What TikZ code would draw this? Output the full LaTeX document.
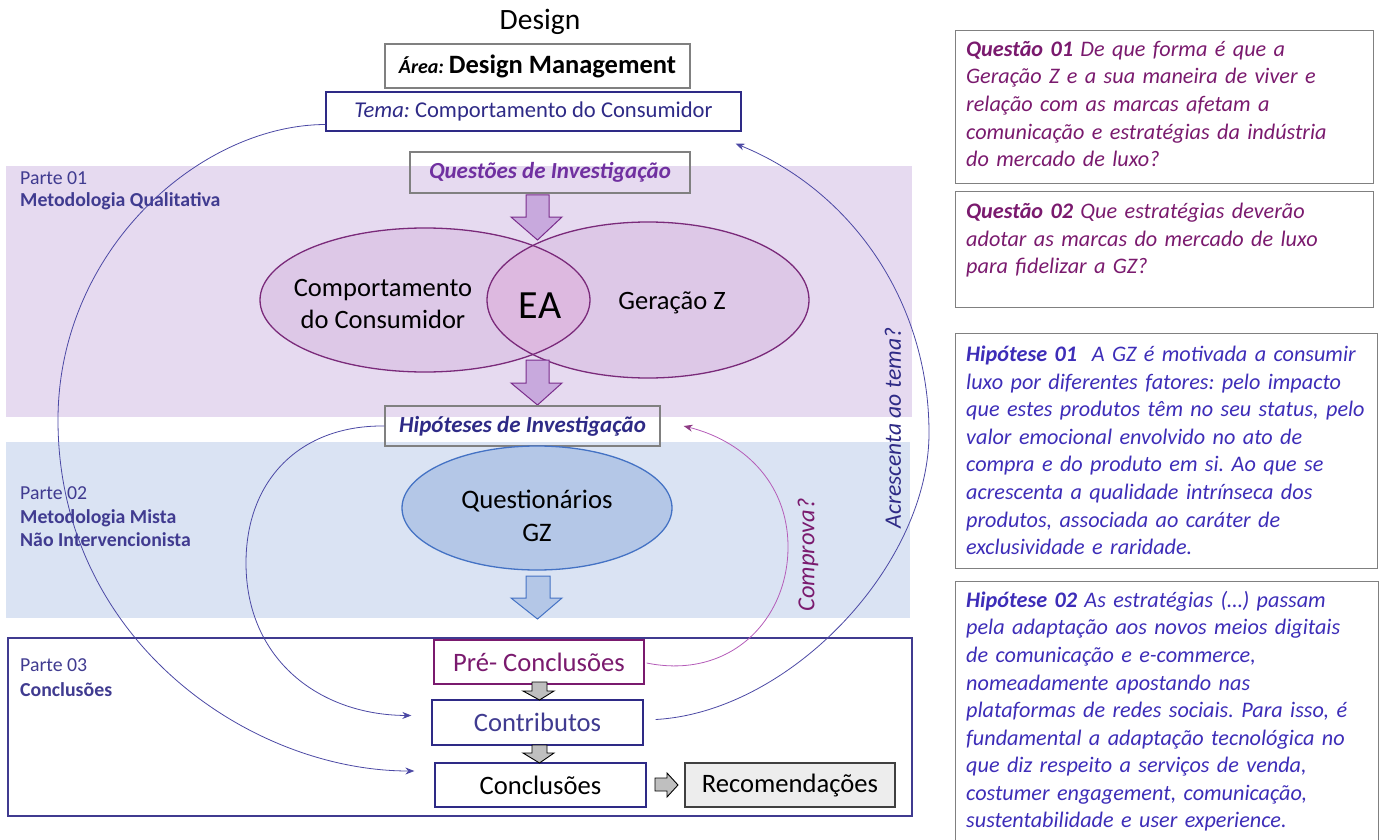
\documentclass[tikz,border=0pt]{standalone}
\usepackage{fontspec}
\setmainfont{Carlito}
\usetikzlibrary{arrows.meta,calc,shapes.geometric}
\definecolor{bandA}{HTML}{E6DAF0}
\definecolor{bandB}{HTML}{DAE3F3}
\definecolor{ellfill}{HTML}{DDC8E7}
\definecolor{lensfill}{HTML}{DDB9E0}
\definecolor{ellborder}{HTML}{7A2A7A}
\definecolor{arrfill}{HTML}{C8A9DD}
\definecolor{arrborder}{HTML}{7A2D8C}
\definecolor{qfill}{HTML}{B4C7E7}
\definecolor{qborder}{HTML}{4472C4}
\definecolor{indigo}{HTML}{2E2A86}
\definecolor{slate}{HTML}{403B90}
\definecolor{frame}{HTML}{808080}
\definecolor{qpurple}{HTML}{7030A0}
\definecolor{plum}{HTML}{7A1A6E}
\definecolor{hblue}{HTML}{3D2DB8}
\definecolor{conn}{HTML}{4B48A4}
\definecolor{conn2}{HTML}{B45CB8}
\definecolor{grayfill}{HTML}{BFBFBF}
\definecolor{recfill}{HTML}{EDEDED}
\newcommand\fs[2]{\fontsize{#1pt}{#2pt}\selectfont}
\tikzset{
  boxnode/.style={draw, line width=1.3pt, inner sep=0pt},
  framebox/.style={draw=frame, line width=1.4pt, inner sep=0pt, anchor=north west},
  bodytext/.style={anchor=north west, inner sep=0pt, align=left, text width=430pt, font=\fs{22.2}{27.55}\itshape},
  conline/.style={draw=conn, line width=0.8pt, -{Stealth[length=9pt,width=7pt]}},
  blockarrow/.style={line width=1pt, line join=miter},
  partlabel/.style={anchor=base west, inner sep=0pt, text=slate, font=\fs{19.8}{22}}
}
\frenchspacing
\begin{document}
\begin{tikzpicture}[x=1pt,y=-1pt]
\useasboundingbox (0,0) rectangle (1385,840);
% bands
\node[fill=bandA, minimum width=906pt, minimum height=251pt, inner sep=0pt, anchor=north west] (bandA) at (6,166) {};
\node[fill=bandB, minimum width=904pt, minimum height=176pt, inner sep=0pt, anchor=north west] (bandB) at (6,442) {};
\node[draw=slate, line width=1.5pt, minimum width=904pt, minimum height=178pt, inner sep=0pt, anchor=north west] (bandC) at (7,637) {};
% part labels
\node[partlabel] (p1a) at (20,185) {Parte 01};
\node[partlabel] (p1b) at (20,207) {\bfseries Metodologia Qualitativa};
\node[partlabel] (p2a) at (20,499) {Parte 02};
\node[partlabel] (p2b) at (20,523) {\bfseries Metodologia Mista};
\node[partlabel] (p2c) at (20,546) {\bfseries Não Intervencionista};
\node[partlabel] (p3a) at (20,671) {Parte 03};
\node[partlabel] (p3b) at (20,696) {\bfseries Conclusões};
% title and header boxes
\node[inner sep=0pt, font=\fs{29.5}{32}] (design) at (540,22) {Design};
\node[boxnode, draw=frame, minimum width=305pt, minimum height=44pt] (area) at (537.5,66)
  {{\fs{20}{22}\bfseries\itshape Área:}\hspace{5pt}{\fs{26.5}{28}\bfseries Design Management}};
\node[boxnode, draw=indigo, minimum width=415pt, minimum height=39pt, text=indigo, font=\fs{22.6}{24}] (tema) at (533.5,111.5)
  {{\itshape Tema:} Comportamento do Consumidor};
\node[boxnode, draw=frame, minimum width=280pt, minimum height=41pt, text=qpurple, font=\fs{23}{25}\bfseries\itshape] (quest) at (550,172.5)
  {Questões de Investigação};
% arrow 1
\draw[blockarrow, draw=arrborder, fill=arrfill] (526,195) -- (549,195) -- (549,217) -- (562,217) -- (537.5,240) -- (511,217) -- (526,217) -- cycle;
% ellipses
\fill[ellfill] (425,300) ellipse [x radius=165, y radius=72];
\fill[ellfill] (648,300) ellipse [x radius=161, y radius=78];
\begin{scope}
\clip (425,300) ellipse [x radius=165, y radius=72];
\fill[lensfill] (648,300) ellipse [x radius=161, y radius=78];
\end{scope}
\draw[ellborder, line width=1.3pt] (425,300) ellipse [x radius=165, y radius=72];
\draw[ellborder, line width=1.3pt] (648,300) ellipse [x radius=161, y radius=78];
\node[align=center, font=\fs{26.5}{32}] (cc) at (383,304) {Comportamento\\do Consumidor};
\node[font=\fs{40}{42}] (ea) at (540,306) {EA};
\node[font=\fs{26.5}{28}] (gz) at (672,303) {Geração Z};
% arrow 2
\draw[blockarrow, draw=arrborder, fill=arrfill] (526,360) -- (549,360) -- (549,383) -- (562,383) -- (537.5,405) -- (511,383) -- (526,383) -- cycle;
\node[boxnode, draw=frame, minimum width=275pt, minimum height=40pt, text=indigo, font=\fs{23}{25}\bfseries\itshape] (hip) at (522.5,426)
  {Hipóteses de Investigação};
% questionnaire ellipse
\node[draw=qborder, fill=qfill, line width=1.3pt, ellipse, minimum width=270pt, minimum height=124pt, inner sep=0pt] (questio) at (537,508) {};
\node[align=center, font=\fs{26.7}{33}] (qtext) at (537,516) {Questionários\\GZ};
% arrow 3
\draw[blockarrow, draw=qborder, fill=qfill] (526,576) -- (550,576) -- (550,598) -- (562,598) -- (537.5,619) -- (511,598) -- (526,598) -- cycle;
% conclusions boxes
\node[boxnode, draw=plum, minimum width=210pt, minimum height=44pt, text=plum, font=\fs{26.6}{28}] (pre) at (539,662) {Pré- Conclusões};
\node[boxnode, draw=indigo, minimum width=211pt, minimum height=45pt, text=slate, font=\fs{26.6}{28}] (contrib) at (537.5,722.5) {Contributos};
\node[boxnode, draw=indigo, minimum width=211pt, minimum height=44pt, font=\fs{26.6}{28}] (concl) at (540.5,785) {Conclusões};
\node[boxnode, draw=black!75, fill=recfill, minimum width=210pt, minimum height=44pt, font=\fs{26.6}{28}] (recom) at (790,785) {Recomendações};
% gray arrows
\draw[blockarrow, draw=black, fill=grayfill, line width=0.9pt] (532,682) -- (547,682) -- (547,691) -- (554,691) -- (539.5,700) -- (523,691) -- (532,691) -- cycle;
\draw[blockarrow, draw=black, fill=grayfill, line width=0.9pt] (532,745) -- (547,745) -- (547,753) -- (554,753) -- (539.5,763) -- (523,753) -- (532,753) -- cycle;
\draw[blockarrow, draw=black, fill=grayfill, line width=0.9pt] (655,778) -- (667,778) -- (667,773) -- (678,785) -- (667,797) -- (667,791) -- (655,791) -- cycle;
% connectors
\coordinate (aEnd) at ($(concl.west)+(-20,-14)$);
\draw[conline] ($(tema.west)+(0,13)$) .. controls (200,125) and (58,250) .. (58,420)
  .. controls (58,640) and (250,771) .. (aEnd);
\coordinate (bEnd) at ($(contrib.west)+(-20,-7)$);
\draw[conline] (hip.west) .. controls (300,425) and (246,480) .. (246,563)
  .. controls (246,660) and (320,715) .. (bEnd);
\coordinate (cEnd) at ($(tema.south east)+(-6,12)$);
\draw[conline] ($(contrib.east)+(12,-3)$) .. controls (790,712) and (929,565) .. (929,433)
  .. controls (929,300) and (850,190) .. (cEnd);
\coordinate (dEnd) at ($(hip.east)+(23,0)$);
\draw[draw=conn2, line width=0.8pt, -{Stealth[length=9pt,width=7pt,color=plum!85]}] ($(pre.east)+(2,1)$) .. controls (730,680) and (788,620) .. (788,547)
  .. controls (788,480) and (740,440) .. (dEnd);
% rotated labels
\node[rotate=90, text=indigo, font=\fs{23.6}{26}\itshape] (acresc) at (893,428) {Acrescenta ao tema?};
\node[rotate=90, text=plum, font=\fs{24.5}{26}\itshape] (comprova) at (808,555) {Comprova?};
% right boxes
\node[framebox, minimum width=418pt, minimum height=153pt] (q1box) at (955,30) {};
\node[bodytext, text=plum] (q1) at (966,41)
  {\textbf{Questão 01} De que forma é que a\\Geração Z e a sua maneira de viver e\\relação com as marcas afetam a\\comunicação e estratégias da indústria\\do mercado de luxo?};
\node[framebox, minimum width=418pt, minimum height=116pt] (q2box) at (955,191) {};
\node[bodytext, text=plum] (q2) at (966,203)
  {\textbf{Questão 02} Que estratégias deverão\\adotar as marcas do mercado de luxo\\para fidelizar a GZ?};
\node[framebox, minimum width=422pt, minimum height=235pt] (h1box) at (955,333) {};
\node[bodytext, text=hblue] (h1) at (966,346)
  {\textbf{Hipótese 01}\ \ A GZ é motivada a consumir\\luxo por diferentes fatores: pelo impacto\\que estes produtos têm no seu status, pelo\\valor emocional envolvido no ato de\\compra e do produto em si. Ao que se\\acrescenta a qualidade intrínseca dos\\produtos, associada ao caráter de\\exclusividade e raridade.};
\node[framebox, minimum width=423pt, minimum height=265pt] (h2box) at (955,581) {};
\node[bodytext, text=hblue] (h2) at (966,591)
  {\textbf{Hipótese 02} As estratégias (…) passam\\pela adaptação aos novos meios digitais\\de comunicação e e-commerce,\\nomeadamente apostando nas\\plataformas de redes sociais. Para isso, é\\fundamental a adaptação tecnológica no\\que diz respeito a serviços de venda,\\costumer engagement, comunicação,\\sustentabilidade e user experience.};
\end{tikzpicture}
\end{document}
